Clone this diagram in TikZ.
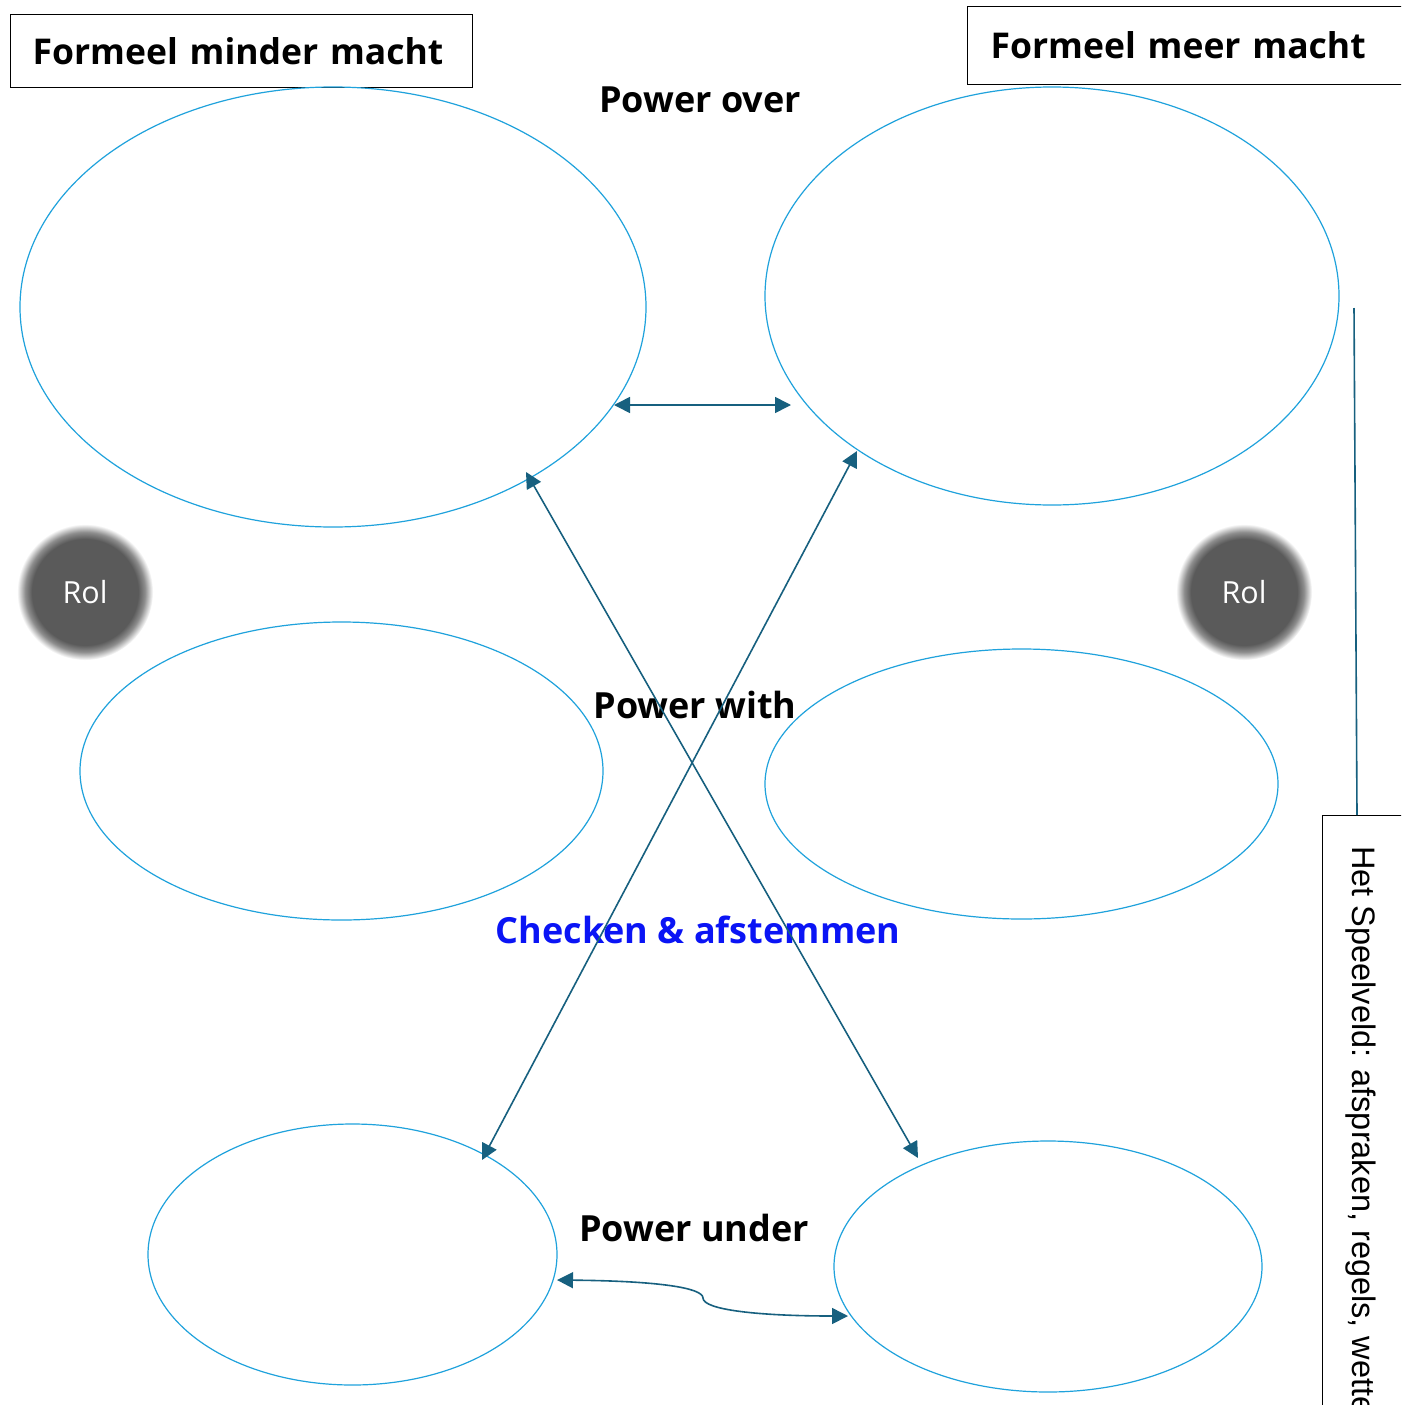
\documentclass[tikz,border=0pt]{standalone}
\usepackage{fontspec}
\setmainfont{Open Sans}
\newfontfamily\arialf{Liberation Sans}
\usetikzlibrary{shapes.geometric,arrows.meta}
\definecolor{ellc}{HTML}{1FA2DC}
\definecolor{conc}{HTML}{17607F}
\definecolor{rolc}{HTML}{5A5A5A}
\definecolor{bluetxt}{HTML}{0A14F5}
\pgfdeclareradialshading{rolblur}{\pgfpoint{0cm}{0cm}}{rgb(0bp)=(0.353,0.353,0.353); rgb(19.5bp)=(0.353,0.353,0.353); rgb(22bp)=(0.55,0.55,0.55); rgb(25bp)=(1,1,1); rgb(50bp)=(1,1,1)}
\tikzset{
  oval/.style={ellipse, draw=ellc, line width=1.2pt, inner sep=0pt},
  conn/.style={draw=conc, line width=1.6pt, {Triangle[length=16pt,width=16pt]}-{Triangle[length=16pt,width=16pt]}},
  plainline/.style={draw=conc, line width=1.6pt},
  titlebox/.style={draw=black, line width=1.2pt, align=left, font=\bfseries\fontsize{35.5}{42}\selectfont},
  powertxt/.style={font=\bfseries\fontsize{36}{42}\selectfont, inner sep=0pt},
  roltxt/.style={circle, minimum size=108pt, text=white, font=\fontsize{30.5}{34}\selectfont, inner sep=0pt},
}
\begin{document}
\begin{tikzpicture}[x=1pt,y=-1pt]
\useasboundingbox (0,0) rectangle (1401,1405);
\clip (0,0) rectangle (1401,1405);
\fill[white] (0,0) rectangle (1401,1405);

% title boxes
\node (b1) [titlebox, anchor=north west, minimum width=462pt, minimum height=73pt, inner xsep=22pt, text width=418pt] at (10,14) {Formeel minder macht};
\node (b2) [titlebox, anchor=north west, minimum width=440pt, minimum height=78pt, inner xsep=23pt, text width=394pt] at (967,6) {Formeel meer macht};

% ellipses
\node (e1) [oval, minimum width=626pt, minimum height=440pt] at (333,307) {};
\node (e2) [oval, minimum width=574pt, minimum height=418pt] at (1052,296) {};
\node (e3) [oval, minimum width=523pt, minimum height=298pt] at (341.5,771) {};
\node (e4) [oval, minimum width=513pt, minimum height=270pt] at (1021.5,784) {};
\node (e5) [oval, minimum width=409pt, minimum height=261pt] at (352.5,1254.5) {};
\node (e6) [oval, minimum width=428pt, minimum height=251pt] at (1048,1266.5) {};

% Rol circles with soft edge
\shade[shading=rolblur] (85,592) circle (68pt);
\shade[shading=rolblur] (1244,592) circle (68pt);
\node (rol1) [roltxt] at (85,592) {Rol};
\node (rol2) [roltxt] at (1244,592) {Rol};

% labels
\node (po) [powertxt] at (700,100) {Power over};
\node (pw) [powertxt] at (695,705) {Power with};
\node (ca) [powertxt, text=bluetxt] at (698,930) {Checken \& afstemmen};
\node (pu) [powertxt] at (694,1228) {Power under};

% connector coordinates
\coordinate (h1) at (614,405);
\coordinate (h2) at (791,405);
\coordinate (a1) at (526,472);
\coordinate (a2) at (918,1158);
\coordinate (c1) at (857,451);
\coordinate (c2) at (482,1160);
\coordinate (u1) at (557,1280);
\coordinate (um) at (703,1298);
\coordinate (u2) at (848,1316);
\coordinate (v1) at (1354,308);

% right box
\node (spbox) [draw=black, line width=1.2pt, anchor=north west, minimum width=110pt, minimum height=620pt, inner sep=0pt] at (1322,815) {};
\node (sptext) [rotate=-90, anchor=base west, inner sep=0pt, font=\arialf\fontsize{32.5}{38}\selectfont] at (1352,846) {Het Speelveld: afspraken, regels, wetten};

% connectors
\draw[conn] (h1) -- (h2);
\draw[conn] (a1) -- (a2);
\draw[conn] (c1) -- (c2);
\draw[conn] (u1) .. controls (660,1281) and (703,1288) .. (um) .. controls (703,1310) and (760,1316) .. (u2);
\draw[plainline] (v1) -- (spbox.north west -| 1357,0);
\end{tikzpicture}
\end{document}
